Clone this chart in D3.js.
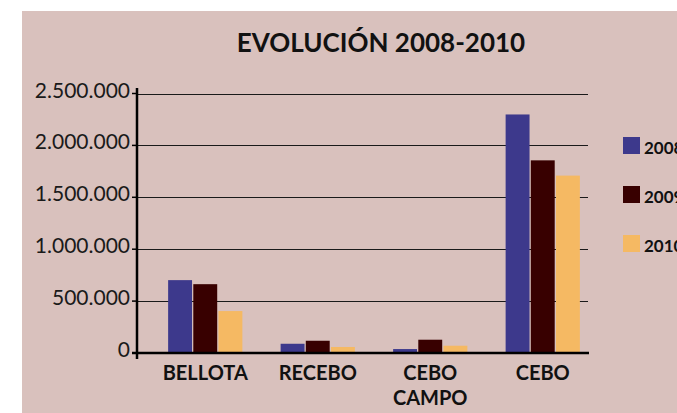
<!DOCTYPE html>
<html>
<head>
<meta charset="utf-8">
<script src="https://cdn.jsdelivr.net/npm/d3@7"></script>
<style>
  html, body { margin: 0; padding: 0; background: #fff; }
  svg { display: block; font-family: Lato, "Open Sans", sans-serif; }
</style>
</head>
<body>
<div id="plot"></div>
<script>
// data
const categories = [["BELLOTA"], ["RECEBO"], ["CEBO", "CAMPO"], ["CEBO"]];
const years = ["2008", "2009", "2010"];
const values2008 = [702000, 89000, 38000, 2298000];
const values2009 = [663000, 118000, 128000, 1856000];
const values2010 = [404000, 58000, 70000, 1709000];
const yTicks = [0, 500000, 1000000, 1500000, 2000000, 2500000];

const series = [values2008, values2009, values2010];
const colors = ["#3d398c", "#380000", "#f5b963"];

const width = 677, height = 413;
const svg = d3.select("#plot")
  .append("svg")
  .attr("width", width)
  .attr("height", height);

// pink panel
svg.append("rect")
  .attr("x", 22).attr("y", 11)
  .attr("width", width - 22).attr("height", height - 11)
  .attr("fill", "#d9c1bd");

const axisLeft = 137, axisRight = 589;

const y = d3.scaleLinear()
  .domain([0, 2500000])
  .range([353, 93.5]);

const x = d3.scaleBand()
  .domain(d3.range(categories.length))
  .range([149, 599])
  .paddingInner(0.34)
  .paddingOuter(0.17);

const xInner = d3.scaleBand()
  .domain(years)
  .range([0, x.bandwidth()])
  .paddingInner(0.05);

const fmt = d3.formatLocale({ decimal: ",", thousands: ".", grouping: [3], currency: ["", "€"] }).format(",");

// gridlines
svg.append("g")
  .selectAll("line")
  .data(yTicks.slice(1))
  .join("line")
  .attr("x1", axisLeft).attr("x2", axisRight - 1)
  .attr("y1", d => Math.round(y(d)) + 0.5)
  .attr("y2", d => Math.round(y(d)) + 0.5)
  .attr("stroke", "#1a1a1a")
  .attr("stroke-width", 1);

// bars
svg.append("g")
  .selectAll("g")
  .data(series)
  .join("g")
  .attr("fill", (d, i) => colors[i])
  .attr("transform", (d, i) => `translate(${xInner(years[i])},0)`)
  .selectAll("rect")
  .data(d => d)
  .join("rect")
  .attr("x", (d, i) => x(i))
  .attr("y", d => y(d))
  .attr("width", xInner.bandwidth())
  .attr("height", d => y(0) - y(d));

// y axis
svg.append("line")
  .attr("x1", axisLeft).attr("x2", axisLeft)
  .attr("y1", 88).attr("y2", 359)
  .attr("stroke", "#000").attr("stroke-width", 2.5);

svg.append("g")
  .selectAll("line")
  .data(yTicks)
  .join("line")
  .attr("x1", axisLeft - 5).attr("x2", axisLeft)
  .attr("y1", d => y(d)).attr("y2", d => y(d))
  .attr("stroke", "#000").attr("stroke-width", 1.5);

svg.append("g")
  .selectAll("text")
  .data(yTicks)
  .join("text")
  .attr("x", 130)
  .attr("y", d => y(d) + 4)
  .attr("text-anchor", "end")
  .attr("font-size", 21)
  .attr("fill", "#1a1a1a")
  .text(d => fmt(d));

// x axis
svg.append("line")
  .attr("x1", axisLeft - 5).attr("x2", axisRight)
  .attr("y1", y(0)).attr("y2", y(0))
  .attr("stroke", "#000").attr("stroke-width", 2.5);

const xLabels = svg.append("g")
  .selectAll("text")
  .data(categories)
  .join("text")
  .attr("text-anchor", "middle")
  .attr("font-size", 20)
  .attr("font-weight", "bold")
  .attr("fill", "#111")
  .attr("transform", (d, i) => `translate(${x(i) + x.bandwidth() / 2},380)`);

xLabels.selectAll("tspan")
  .data(d => d)
  .join("tspan")
  .attr("x", 0)
  .attr("y", (d, i) => i * 25)
  .text(d => d);

// title
svg.append("text")
  .attr("x", 381).attr("y", 52)
  .attr("text-anchor", "middle")
  .attr("font-size", 26)
  .attr("font-weight", "bold")
  .attr("fill", "#111")
  .text("EVOLUCIÓN 2008-2010");

// legend
const legend = svg.append("g")
  .selectAll("g")
  .data(years)
  .join("g")
  .attr("transform", (d, i) => `translate(623,${137 + i * 49})`);

legend.append("rect")
  .attr("width", 17).attr("height", 17)
  .attr("fill", (d, i) => colors[i]);

legend.append("text")
  .attr("x", 21).attr("y", 16.5)
  .attr("font-size", 17)
  .attr("font-weight", "bold")
  .attr("fill", "#111")
  .text(d => d);
</script>
</body>
</html>
